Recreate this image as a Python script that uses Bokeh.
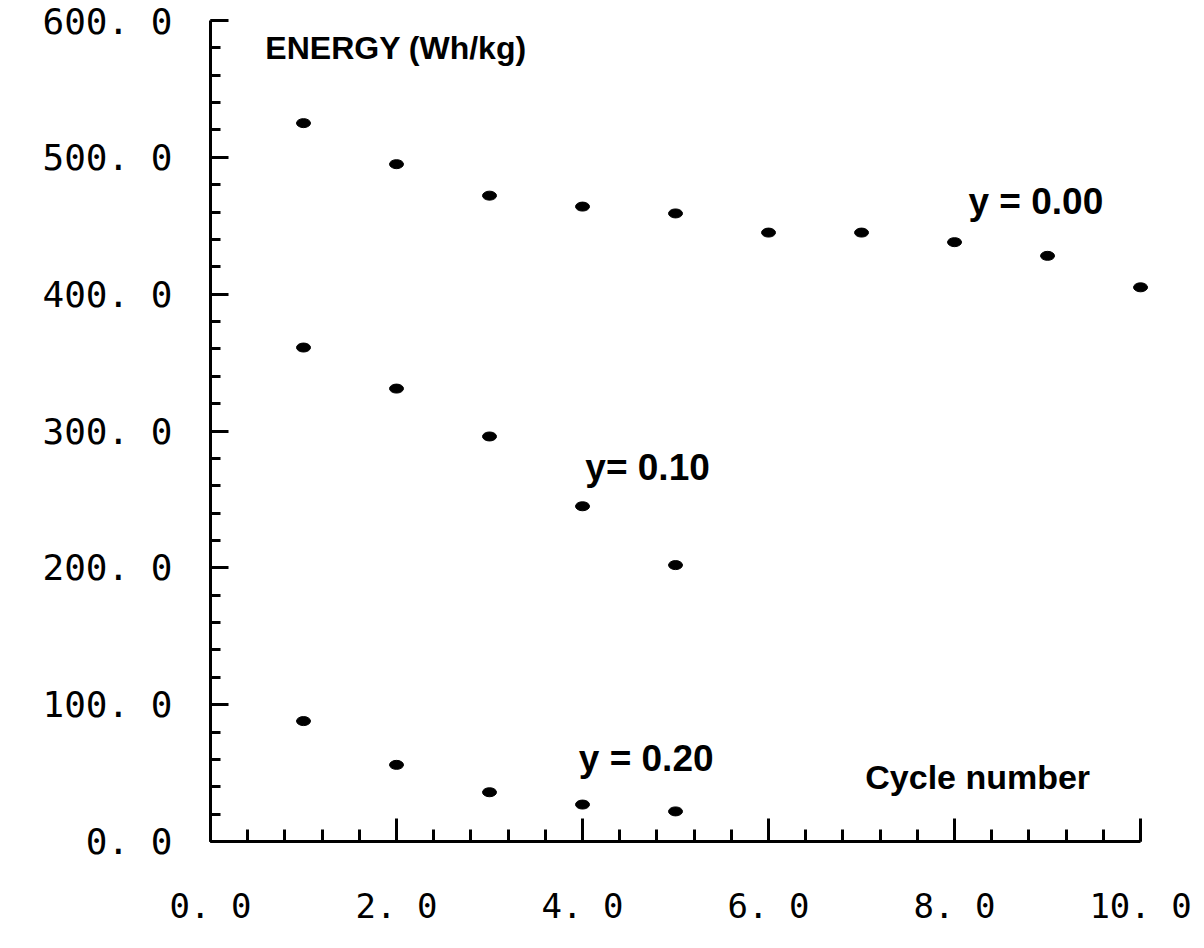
from bokeh.plotting import figure
from bokeh.models import Range1d, FixedTicker, ColumnDataSource
from bokeh.core.properties import value
from bokeh.embed import file_html
from bokeh.resources import INLINE

# ---- data ----
cycles_a = [1, 2, 3, 4, 5, 6, 7, 8, 9, 10]
energy_y000 = [525, 495, 472, 464, 459, 445, 445, 438, 428, 405]
cycles_b = [1, 2, 3, 4, 5]
energy_y010 = [361, 331, 296, 245, 202]
cycles_c = [1, 2, 3, 4, 5]
energy_y020 = [88, 56, 36, 27, 22]

y_ticks = [0, 100, 200, 300, 400, 500, 600]
y_tick_labels = ["0. 0", "100. 0", "200. 0", "300. 0", "400. 0", "500. 0", "600. 0"]
y_minor = [v for v in range(0, 601, 20)]
x_ticks = [0, 2, 4, 6, 8, 10]
x_tick_labels = ["0. 0", "2. 0", "4. 0", "6. 0", "8. 0", "10. 0"]
x_minor = [round(i * 0.4, 1) for i in range(0, 26)]

label_texts = ["ENERGY (Wh/kg)", "y = 0.00", "y= 0.10", "y = 0.20", "Cycle number"]
label_x = [0.59, 8.15, 4.03, 3.96, 7.04]
label_y = [580, 468, 273, 61, 47]
label_sizes = ["32px", "37px", "37px", "37px", "34px"]

# ---- figure ----
p = figure(width=1200, height=936, output_backend="svg", toolbar_location=None,
           x_range=Range1d(0, 10.15), y_range=Range1d(0, 600),
           min_border_left=210, min_border_right=46, min_border_top=20,
           min_border_bottom=95)
p.frame_width = 944
p.frame_height = 821
p.outline_line_color = None
p.xgrid.visible = False
p.ygrid.visible = False
p.background_fill_color = "white"
p.border_fill_color = "white"

tick_font = "DejaVu Sans Mono"
for ax in (p.xaxis[0], p.yaxis[0]):
    ax.axis_line_width = 3
    ax.axis_line_color = "black"
    ax.major_tick_line_width = 3
    ax.minor_tick_line_width = 3
    ax.major_tick_line_color = "black"
    ax.minor_tick_line_color = "black"
    ax.major_tick_out = 0
    ax.minor_tick_out = 0
    ax.major_label_text_font = tick_font
    ax.major_label_text_color = "black"

p.yaxis[0].ticker = FixedTicker(ticks=y_ticks, minor_ticks=y_minor)
p.yaxis[0].major_tick_in = 18
p.yaxis[0].minor_tick_in = 10
p.yaxis[0].major_label_standoff = 38
p.yaxis[0].major_label_text_font_size = "36px"
p.yaxis[0].major_label_overrides = dict(zip(y_ticks, y_tick_labels))

p.xaxis[0].ticker = FixedTicker(ticks=x_ticks, minor_ticks=x_minor)
p.xaxis[0].bounds = (0, 10)
p.xaxis[0].major_tick_in = 23
p.xaxis[0].minor_tick_in = 12
p.xaxis[0].major_label_standoff = 44
p.xaxis[0].major_label_text_font_size = "34px"
p.xaxis[0].major_label_overrides = dict(zip(x_ticks, x_tick_labels))

for xs, ys in ((cycles_a, energy_y000), (cycles_b, energy_y010), (cycles_c, energy_y020)):
    src = ColumnDataSource(dict(x=xs, y=ys))
    p.ellipse(x="x", y="y", width=14, height=9, width_units="screen",
              height_units="screen", source=src, fill_color="black",
              line_color="black")

lab_src = ColumnDataSource(dict(x=label_x, y=label_y, text=label_texts, size=label_sizes))
p.text(x="x", y="y", text="text", source=lab_src, text_font=value("Liberation Sans"),
       text_font_style="bold", text_font_size="size", text_color="black",
       text_align="left", text_baseline="middle")

open("out.html", "w").write(file_html(p, INLINE))
